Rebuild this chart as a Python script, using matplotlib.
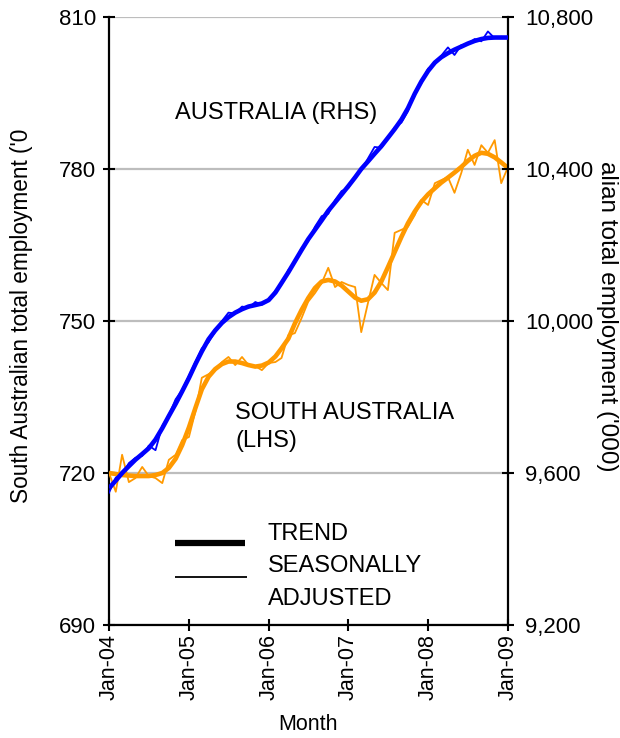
import matplotlib
matplotlib.use("Agg")
import matplotlib.pyplot as plt
import matplotlib.dates as mdates
import pandas as pd

plt.rcParams['font.family'] = ['Liberation Sans', 'DejaVu Sans']

months = pd.date_range("2004-01-01", "2009-01-01", freq="MS")

# South Australia ('000), left axis
sa_trend = [720.0, 719.8, 719.6, 719.5, 719.4, 719.4, 719.4, 719.6, 720.0, 721.0,
            722.8, 725.5, 729.0, 733.0, 736.5, 739.0, 740.5, 741.5, 742.0, 742.0,
            741.7, 741.3, 741.0, 741.2, 741.8, 743.0, 744.6, 746.5, 749.5, 752.2,
            754.5, 756.5, 757.8, 758.1, 757.8, 757.0, 755.8, 754.6, 754.0, 754.3,
            755.6, 757.8, 760.6, 763.6, 766.6, 769.3, 771.6, 773.5, 775.0, 776.2,
            777.3, 778.3, 779.3, 780.4, 781.6, 782.6, 783.2, 783.0, 782.3, 781.3,
            780.2]
sa_sa = [720.0, 716.3, 723.6, 718.2, 719.0, 721.2, 719.4, 719.0, 718.0, 722.6,
         723.6, 726.5, 727.1, 732.4, 738.8, 739.5, 740.3, 741.9, 742.9, 741.3,
         742.9, 741.3, 741.1, 740.3, 741.7, 741.9, 742.7, 747.2, 747.6, 750.6,
         753.8, 755.5, 757.5, 760.5, 756.7, 757.7, 757.1, 756.7, 747.8, 753.6,
         759.1, 757.5, 756.1, 767.4, 768.0, 768.6, 770.9, 773.9, 772.9, 777.2,
         777.8, 778.4, 775.3, 779.2, 783.8, 780.8, 784.7, 783.2, 785.7, 777.2,
         780.4]

# Australia ('000), right axis
au_trend = [9560, 9580, 9600, 9618, 9635, 9650, 9665, 9688, 9718, 9750,
            9782, 9815, 9850, 9888, 9920, 9952, 9975, 9995, 10010, 10022,
            10031, 10038, 10042, 10046, 10055, 10075, 10100, 10128, 10157, 10187,
            10215, 10240, 10265, 10290, 10312, 10333, 10355, 10378, 10400, 10420,
            10440, 10460, 10482, 10505, 10530, 10560, 10598, 10630, 10658, 10680,
            10694, 10705, 10714, 10722, 10730, 10737, 10742, 10745, 10746, 10746,
            10746]
au_sa = [9548, 9588, 9596, 9626, 9640, 9645, 9672, 9660, 9724, 9752,
         9794, 9818, 9856, 9894, 9928, 9944, 9972, 10000, 10022, 10020,
         10038, 10035, 10050, 10043, 10054, 10080, 10096, 10134, 10154, 10192,
         10210, 10248, 10276, 10282, 10318, 10342, 10350, 10382, 10396, 10428,
         10458, 10456, 10480, 10510, 10522, 10552, 10602, 10626, 10664, 10676,
         10698, 10720, 10700, 10726, 10728, 10742, 10736, 10762, 10744, 10748,
         10746]

left_ticks = [690, 720, 750, 780, 810]
right_ticks = [9200, 9600, 10000, 10400, 10800]

BLUE = "#0000FF"
ORANGE = "#FF9900"

fig = plt.figure(figsize=(6.2, 7.38), dpi=100)
ax = fig.add_axes([109/620, 1-625/738, 399/620, 608/738])
ax2 = ax.twinx()

ax.plot(months, sa_trend, color=ORANGE, lw=3.3, solid_capstyle='butt', zorder=3)
ax.plot(months, sa_sa, color=ORANGE, lw=1.3, zorder=3)
ax2.plot(months, au_trend, color=BLUE, lw=3.3, solid_capstyle='butt', zorder=3)
ax2.plot(months, au_sa, color=BLUE, lw=1.3, zorder=3)

ax.set_xlim(months[0], months[-1])
ax.set_ylim(690, 810)
ax2.set_ylim(9200, 10800)
ax.set_yticks(left_ticks)
ax.set_yticklabels([str(v) for v in left_ticks])
ax2.set_yticks(right_ticks)
ax2.set_yticklabels([f"{v:,}" for v in right_ticks])

ax.xaxis.set_major_locator(mdates.YearLocator())
ax.xaxis.set_major_formatter(mdates.DateFormatter('%b-%y'))

ax.grid(axis='y', color='#bdbdbd', lw=1.6, zorder=0)
ax.set_axisbelow(True)

for a in (ax, ax2):
    a.spines['top'].set_visible(False)
    for s in a.spines.values():
        s.set_linewidth(1.6)
        s.set_color('black')
ax.spines['right'].set_visible(False)
ax2.spines['left'].set_visible(False)
ax2.spines['bottom'].set_visible(False)

ax.tick_params(axis='y', direction='inout', length=9, width=1.5, labelsize=16, pad=5)
ax.tick_params(axis='x', direction='inout', length=9, width=1.5, labelsize=15.5, pad=2,
               labelrotation=90)
ax2.tick_params(axis='y', direction='inout', length=9, width=1.5, labelsize=16, pad=8)

ax.set_xlabel("Month", fontsize=15.5, labelpad=10)

fig.text(22/620, 1-316/738, "South Australian total employment ('0", rotation=90,
         ha='center', va='center', fontsize=16.3)
fig.text(607/620, 1-316/738, "alian total employment ('000)", rotation=270,
         ha='center', va='center', fontsize=17.5)

ax.text(0.165, 0.842, "AUSTRALIA (RHS)", transform=ax.transAxes, fontsize=17,
        ha='left', va='center')
ax.text(0.316, 0.326, "SOUTH AUSTRALIA\n(LHS)", transform=ax.transAxes, fontsize=17,
        ha='left', va='center', linespacing=1.35)

# legend key (drawn in axes fraction)
ax.plot([0.165, 0.341], [0.135, 0.135], transform=ax.transAxes, color='black',
        lw=4.5, solid_capstyle='butt', clip_on=False)
ax.plot([0.165, 0.346], [0.079, 0.079], transform=ax.transAxes, color='black',
        lw=1.3, solid_capstyle='butt', clip_on=False)
ax.text(0.398, 0.150, "TREND", transform=ax.transAxes, fontsize=17,
        ha='left', va='center')
ax.text(0.398, 0.0965, "SEASONALLY", transform=ax.transAxes, fontsize=17,
        ha='left', va='center')
ax.text(0.398, 0.042, "ADJUSTED", transform=ax.transAxes, fontsize=17,
        ha='left', va='center')

fig.savefig("out.png", dpi=100)
